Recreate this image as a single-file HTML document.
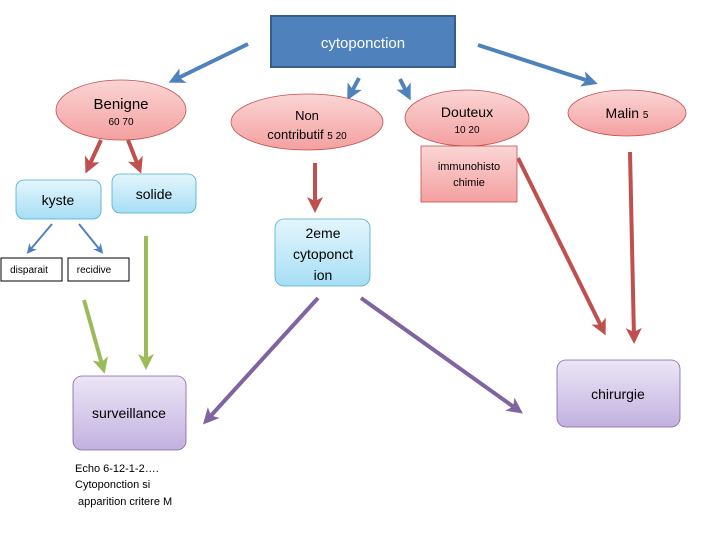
<!DOCTYPE html>
<html><head><meta charset="utf-8"><style>
html,body{margin:0;padding:0;background:#fff;}
svg{display:block;font-family:"Liberation Sans",sans-serif;}
</style></head><body>
<svg width="720" height="540" viewBox="0 0 720 540" xmlns="http://www.w3.org/2000/svg">
<defs>
<linearGradient id="pink" x1="0" y1="0" x2="0" y2="1"><stop offset="0" stop-color="#fbd5d5"/><stop offset="1" stop-color="#f4a0a0"/></linearGradient>
<linearGradient id="blue" x1="0" y1="0" x2="0" y2="1"><stop offset="0" stop-color="#e4f6fd"/><stop offset="1" stop-color="#a6def5"/></linearGradient>
<linearGradient id="purp" x1="0" y1="0" x2="0" y2="1"><stop offset="0" stop-color="#ece6f6"/><stop offset="1" stop-color="#c2b1e0"/></linearGradient>
<marker id="aB" markerWidth="4" markerHeight="4" refX="2.5" refY="2" orient="auto"><path d="M0,0 L4,2 L0,4 L1,2 z" fill="#4f81bd"/></marker>
<marker id="aR" markerWidth="4" markerHeight="4" refX="2.5" refY="2" orient="auto"><path d="M0,0 L4,2 L0,4 L1,2 z" fill="#c0504d"/></marker>
<marker id="aG" markerWidth="4" markerHeight="4" refX="2.5" refY="2" orient="auto"><path d="M0,0 L4,2 L0,4 L1,2 z" fill="#9bbb59"/></marker>
<marker id="aP" markerWidth="4" markerHeight="4" refX="2.5" refY="2" orient="auto"><path d="M0,0 L4,2 L0,4 L1,2 z" fill="#8064a2"/></marker>
<marker id="aS" markerWidth="5" markerHeight="5" refX="2.5" refY="2.5" orient="auto"><path d="M0,0 L5,2.5 L0,5 L1.5,2.5 z" fill="#4f81bd"/></marker>
</defs>

<rect x="271" y="16" width="184" height="51" fill="#4f81bd" stroke="#385d8a" stroke-width="2"/>
<text x="363" y="48" font-size="15" fill="#fff" text-anchor="middle">cytoponction</text>

<g stroke-width="4" fill="none">
<line x1="248" y1="44" x2="174" y2="80" stroke="#4f81bd" marker-end="url(#aB)"/>
<line x1="359" y1="78" x2="350" y2="95" stroke="#4f81bd" marker-end="url(#aB)"/>
<line x1="400" y1="79" x2="408" y2="95" stroke="#4f81bd" marker-end="url(#aB)"/>
<line x1="478" y1="45" x2="592" y2="82" stroke="#4f81bd" marker-end="url(#aB)"/>
<line x1="101" y1="140" x2="88" y2="168" stroke="#c0504d" marker-end="url(#aR)"/>
<line x1="128" y1="140" x2="139" y2="168" stroke="#c0504d" marker-end="url(#aR)"/>
<line x1="315" y1="163" x2="315" y2="207" stroke="#c0504d" marker-end="url(#aR)"/>
<line x1="518" y1="158" x2="603" y2="330" stroke="#c0504d" marker-end="url(#aR)"/>
<line x1="630" y1="152" x2="634" y2="338" stroke="#c0504d" marker-end="url(#aR)"/>
<line x1="84" y1="300" x2="103" y2="368" stroke="#9bbb59" marker-end="url(#aG)"/>
<line x1="146" y1="236" x2="146" y2="364" stroke="#9bbb59" marker-end="url(#aG)"/>
<line x1="318" y1="298" x2="207" y2="420" stroke="#8064a2" marker-end="url(#aP)"/>
<line x1="361" y1="298" x2="518" y2="410" stroke="#8064a2" marker-end="url(#aP)"/>
</g>
<g stroke-width="2" stroke="#4f81bd">
<line x1="52" y1="224" x2="30" y2="250" marker-end="url(#aS)"/>
<line x1="79" y1="224" x2="100" y2="250" marker-end="url(#aS)"/>
</g>

<ellipse cx="121" cy="110" rx="65" ry="30" fill="url(#pink)" stroke="#c0504d" stroke-width="0.8"/>
<text x="121" y="109" font-size="15" text-anchor="middle">Benigne</text>
<text x="121" y="125" font-size="10" text-anchor="middle">60 70</text>

<ellipse cx="307" cy="122" rx="76" ry="28" fill="url(#pink)" stroke="#c0504d" stroke-width="0.8"/>
<text x="307" y="120" font-size="13" text-anchor="middle">Non</text>
<text x="307" y="139" font-size="13" text-anchor="middle">contributif <tspan font-size="10">5 20</tspan></text>

<ellipse cx="467" cy="118" rx="62" ry="28" fill="url(#pink)" stroke="#c0504d" stroke-width="0.8"/>
<text x="467" y="117" font-size="14" text-anchor="middle">Douteux</text>
<text x="467" y="133" font-size="10" text-anchor="middle">10 20</text>

<ellipse cx="627" cy="113" rx="59" ry="23" fill="url(#pink)" stroke="#c0504d" stroke-width="0.8"/>
<text x="627" y="118" font-size="14" text-anchor="middle">Malin <tspan font-size="10">5</tspan></text>

<rect x="421" y="146" width="96" height="56" fill="url(#pink)" stroke="#c0504d" stroke-width="0.8"/>
<text x="469" y="170" font-size="11" text-anchor="middle">immunohisto</text>
<text x="469" y="186" font-size="11" text-anchor="middle">chimie</text>

<rect x="16" y="180" width="85" height="39" rx="8" fill="url(#blue)" stroke="#4bacc6" stroke-width="0.8"/>
<text x="58" y="205" font-size="14" text-anchor="middle">kyste</text>
<rect x="112" y="174" width="84" height="39" rx="8" fill="url(#blue)" stroke="#4bacc6" stroke-width="0.8"/>
<text x="154" y="199" font-size="14" text-anchor="middle">solide</text>

<rect x="1" y="258" width="61" height="23" fill="#fff" stroke="#000" stroke-width="1"/>
<text x="29" y="273" font-size="10" text-anchor="middle">disparait</text>
<rect x="68" y="258" width="61" height="23" fill="#fff" stroke="#000" stroke-width="1"/>
<text x="94" y="273" font-size="10" text-anchor="middle">recidive</text>

<rect x="275" y="219" width="95" height="67" rx="9" fill="url(#blue)" stroke="#4bacc6" stroke-width="0.8"/>
<text x="323" y="238" font-size="14" text-anchor="middle">2eme</text>
<text x="323" y="259" font-size="14" text-anchor="middle">cytoponct</text>
<text x="323" y="280" font-size="14" text-anchor="middle">ion</text>

<rect x="73" y="376" width="113" height="74" rx="9" fill="url(#purp)" stroke="#8064a2" stroke-width="0.8"/>
<text x="129" y="418" font-size="14" text-anchor="middle">surveillance</text>

<rect x="557" y="360" width="123" height="67" rx="9" fill="url(#purp)" stroke="#8064a2" stroke-width="0.8"/>
<text x="618" y="399" font-size="14" text-anchor="middle">chirurgie</text>

<text x="75" y="472" font-size="11">Echo 6-12-1-2….</text>
<text x="75" y="488" font-size="11">Cytoponction si</text>
<text x="78" y="505" font-size="11">apparition critere M</text>
</svg>
</body></html>
